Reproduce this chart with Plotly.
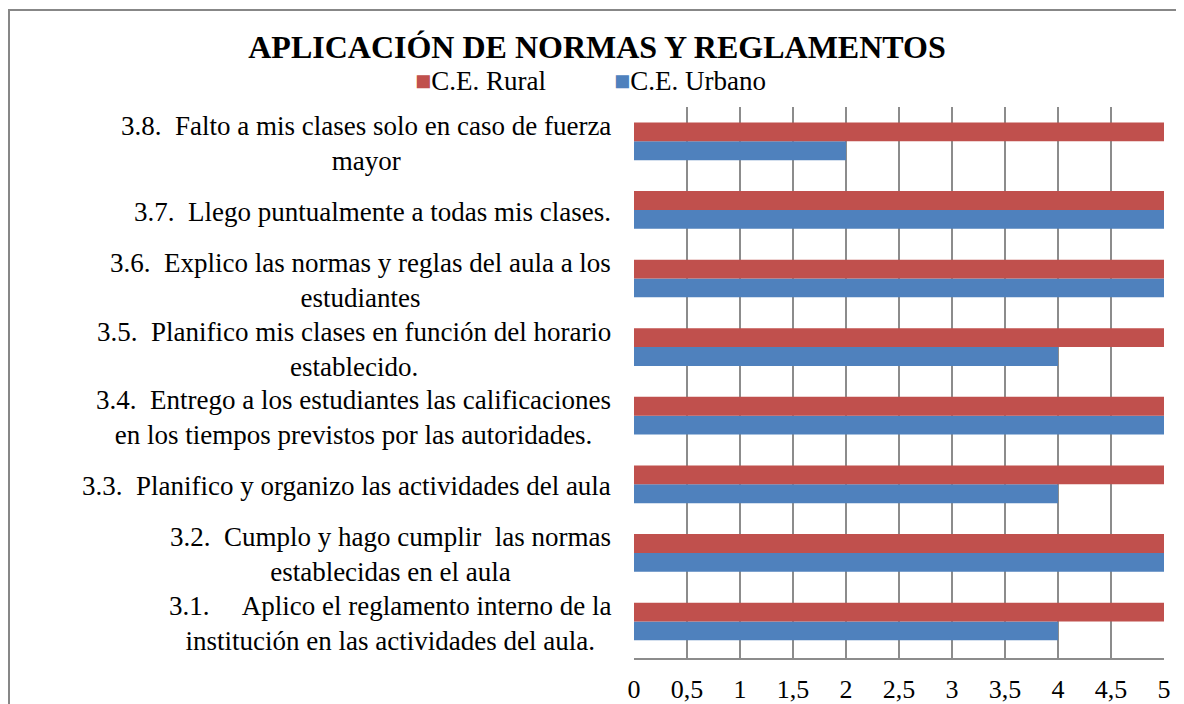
import plotly.graph_objects as go

categorias = [
    "3.1.\u00a0\u00a0\u00a0\u00a0 Aplico el reglamento interno de la<br>institución en las actividades del aula.",
    "3.2.\u00a0 Cumplo y hago cumplir\u00a0 las normas<br>establecidas en el aula",
    "3.3.\u00a0 Planifico y organizo las actividades del aula",
    "3.4.\u00a0 Entrego a los estudiantes las calificaciones<br>en los tiempos previstos por las autoridades.",
    "3.5.\u00a0 Planifico mis clases en función del horario<br>establecido.",
    "3.6.\u00a0 Explico las normas y reglas del aula a los<br>estudiantes",
    "3.7.\u00a0 Llego puntualmente a todas mis clases.",
    "3.8.\u00a0 Falto a mis clases solo en caso de fuerza<br>mayor",
]
ids = ["3.1", "3.2", "3.3", "3.4", "3.5", "3.6", "3.7", "3.8"]
rural = [5, 5, 5, 5, 5, 5, 5, 5]
urbano = [4, 5, 4, 5, 4, 5, 5, 2]
ticks_x = [0, 0.5, 1, 1.5, 2, 2.5, 3, 3.5, 4, 4.5, 5]
ticks_txt = ["0", "0,5", "1", "1,5", "2", "2,5", "3", "3,5", "4", "4,5", "5"]

W, H = 1184, 704
OFF = 8  # margen del body en la página html
fuente = "Liberation Serif, Times New Roman, serif"
ROJO, AZUL = "#C0504D", "#4F81BD"


def px_x(x):
    return (x - OFF) / W


def px_y(y):
    return 1 - (y - OFF) / H


fig = go.Figure()
# urbano primero -> queda abajo dentro de cada grupo
fig.add_trace(go.Bar(y=ids, x=urbano, orientation="h", name="C.E. Urbano",
                     marker_color=AZUL, marker_line_width=0))
fig.add_trace(go.Bar(y=ids, x=rural, orientation="h", name="C.E. Rural",
                     marker_color=ROJO, marker_line_width=0))

# etiquetas de categorías centradas como en Excel (y = índice de la categoría)
for i, txt in enumerate(categorias):
    fig.add_annotation(x=px_x(613), xref="paper", y=i, yref="y", text=txt,
                       showarrow=False, xanchor="right", align="center",
                       yshift=-2,
                       font=dict(size=27, color="black", family=fuente))

# leyenda estilo Excel
for xpos, nombre, col in [(413, "C.E. Rural", ROJO), (612, "C.E. Urbano", AZUL)]:
    fig.add_annotation(x=px_x(xpos), xref="paper", y=px_y(81), yref="paper",
                       text=f'<span style="color:{col}">■</span>{nombre}',
                       showarrow=False, xanchor="left", yanchor="middle",
                       font=dict(size=27, color="black", family=fuente))

# marco del gráfico
fig.add_shape(type="rect", xref="paper", yref="paper",
              x0=px_x(9), x1=1.02, y0=-0.02, y1=px_y(10),
              line=dict(color="#878787", width=2), layer="below")

fig.update_layout(
    width=W, height=H,
    margin=dict(l=0, r=0, t=0, b=0),
    paper_bgcolor="white", plot_bgcolor="white",
    font=dict(family=fuente, size=26, color="black"),
    title=dict(text="<b>APLICACIÓN DE NORMAS Y REGLAMENTOS</b>",
               x=px_x(597), xanchor="center", y=px_y(47), yanchor="middle",
               font=dict(size=32, family=fuente, color="black")),
    barmode="group", bargap=0.45, bargroupgap=0,
    showlegend=False,
)
fig.update_xaxes(domain=[px_x(634), px_x(1164)], range=[0, 5],
                 tickvals=ticks_x, ticktext=ticks_txt,
                 showgrid=True, gridcolor="#8c8c8c", gridwidth=1.5,
                 zeroline=False, showline=True, linecolor="#8c8c8c", linewidth=1.5,
                 ticks="", ticklabelstandoff=7, automargin=False,
                 tickfont=dict(size=26, family=fuente, color="black"))
fig.update_yaxes(type="category", domain=[px_y(658), px_y(107)],
                 categoryorder="array", categoryarray=ids,
                 showticklabels=False, showgrid=False,
                 zeroline=False, showline=False, automargin=False)

fig.write_html("out.html")
